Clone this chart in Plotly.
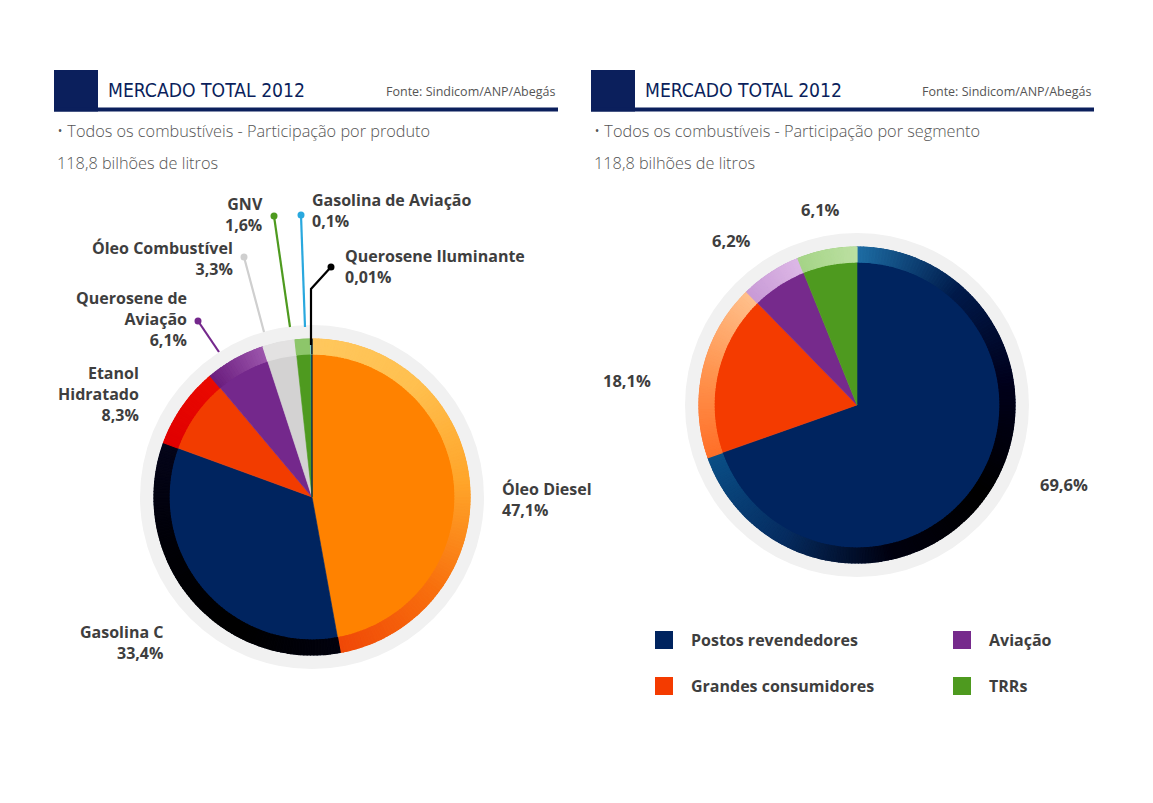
import plotly.graph_objects as go

W, H = 1153, 803
OFF = 8  # page body margin of the browser

# ---------------- data ----------------
products = ["Óleo Diesel", "Gasolina C", "Etanol Hidratado", "Querosene de Aviação",
            "Óleo Combustível", "GNV", "Gasolina de Aviação", "Querosene Iluminante"]
product_share = [47.1, 33.4, 8.3, 6.1, 3.3, 1.6, 0.1, 0.01]

segments = ["Postos revendedores", "Grandes consumidores", "Aviação", "TRRs"]
segment_share = [69.6, 18.1, 6.2, 6.1]

title_text = "MERCADO TOTAL 2012"
source_text = "Fonte: Sindicom/ANP/Abegás"
subtitle_left = "• Todos os combustíveis - Participação por produto"
subtitle_right = "• Todos os combustíveis - Participação por segmento"
volume_text = "118,8 bilhões de litros"

# ---------------- styles ----------------
NAVY = "#0B1F5C"
TXT = "#3E3E3E"
LBL_FONT = "Open Sans"
TITLE_FONT = "DejaVu Sans Condensed, Liberation Sans Narrow, Roboto, sans-serif"

prod_colors = ["#FF8200", "#00245F", "#F23C00", "#74288C", "#D3D2D2", "#4E9A1F", "#29A8DE", "#000000"]
prod_rim = [["#FFC85E", "#FFC050", "#FFA52A", "#F8700E", "#F04808"],
            ["#02020E", "#000000", "#000006", "#05051A"],
            ["#E00000", "#EA0A00"],
            ["#6A1D7E", "#9C56AC"],
            ["#E3E2E2"],
            ["#8DC66A"],
            ["#7FD2F0"],
            ["#000000"]]

seg_colors = ["#00245F", "#F43B00", "#762A8C", "#4E9A1F"]
seg_rim = [["#1E6EA5", "#001A4A", "#00001A", "#000000", "#00000F", "#062C60", "#0B4F86"],
           ["#FF6F28", "#FF9550", "#FFC08C"],
           ["#C89AD6", "#DDB8E6"],
           ["#A5D487", "#BCE0A2"]]


def hex2rgb(h):
    h = h.lstrip("#")
    return [int(h[i:i + 2], 16) for i in (0, 2, 4)]


def interp(stops, t):
    if len(stops) == 1:
        return stops[0]
    p = t * (len(stops) - 1)
    i = min(int(p), len(stops) - 2)
    f = p - i
    a, b = hex2rgb(stops[i]), hex2rgb(stops[i + 1])
    c = [round(a[k] + (b[k] - a[k]) * f) for k in range(3)]
    return "#%02X%02X%02X" % tuple(c)


def rim_parts(values, stops_list):
    """Split each slice's outer band into small pieces to fake a colour gradient."""
    vals, cols = [], []
    for v, stops in zip(values, stops_list):
        n = max(1, int(v * 3)) if len(stops) > 1 else 1
        for j in range(n):
            vals.append(v / n)
            cols.append(interp(stops, (j + 0.5) / n))
    return vals, cols


def px(x):
    return (x - OFF) / W


def py(y):
    return 1 - (y - OFF) / H


def dom(cx, cy, r):
    return dict(x=[px(cx - r), px(cx + r)], y=[py(cy + r), py(cy - r)])


def fmt(v):
    return f"{v:g}".replace(".", ",") + "%"


fig = go.Figure()

pies = [
    (312, 497, 158, products, product_share, prod_colors, prod_rim),
    (857, 405, 158, segments, segment_share, seg_colors, seg_rim),
]
for cx, cy, r, labels, vals, cols, rims in pies:
    # light grey outer ring
    fig.add_trace(go.Pie(values=[1], labels=["bg"], marker=dict(colors=["#F1F1F1"], line=dict(width=0)),
                         domain=dom(cx, cy, r + 14), textinfo="none", hoverinfo="skip",
                         sort=False, showlegend=False))
    fig.add_trace(go.Pie(values=vals, labels=labels, sort=False, direction="clockwise", rotation=0,
                         marker=dict(colors=cols, line=dict(color=cols, width=0.6)),
                         domain=dom(cx, cy, r), textinfo="none", hoverinfo="label+percent",
                         showlegend=False))
    rv, rc = rim_parts(vals, rims)
    fig.add_trace(go.Pie(values=rv, sort=False, direction="clockwise", rotation=0, hole=0.905,
                         marker=dict(colors=rc, line=dict(color=rc, width=1.2)),
                         domain=dom(cx, cy, r), textinfo="none", hoverinfo="skip",
                         showlegend=False))

shapes = []
annotations = []

# headers
for x0, x1, sub in [(54, 558, subtitle_left), (591, 1094, subtitle_right)]:
    shapes.append(dict(type="rect", xref="paper", yref="paper", x0=px(x0), x1=px(x0 + 44),
                       y0=py(111.5), y1=py(70), fillcolor=NAVY, line=dict(width=0)))
    shapes.append(dict(type="rect", xref="paper", yref="paper", x0=px(x0), x1=px(x1),
                       y0=py(111.5), y1=py(107.5), fillcolor=NAVY, line=dict(width=0)))
    annotations.append(dict(text=title_text, x=px(x0 + 52), y=py(91), xanchor="left", yanchor="middle",
                            font=dict(family=TITLE_FONT, size=19.2, color=NAVY)))
    annotations.append(dict(text=source_text, x=px(x1), y=py(92), xanchor="right", yanchor="middle",
                            font=dict(family="Open Sans", size=12.5, color="#555555")))
    annotations.append(dict(text=sub, x=px(x0 + 1), y=py(131), xanchor="left", yanchor="middle",
                            font=dict(family="Open Sans", size=16.3, color="#555555", weight=300)))
    annotations.append(dict(text=volume_text, x=px(x0 + 1), y=py(163), xanchor="left", yanchor="middle",
                            font=dict(family="Open Sans", size=16.3, color="#555555", weight=300)))

# left pie labels: (text lines, anchor x, center y, xanchor)
left_pos = {
    "Óleo Diesel": (["Óleo Diesel"], 500, 499, "left"),
    "Gasolina C": (["Gasolina C"], 165, 642, "right"),
    "Etanol Hidratado": (["Etanol", "Hidratado"], 141, 394, "right"),
    "Querosene de Aviação": (["Querosene de", "Aviação"], 189, 319, "right"),
    "Óleo Combustível": (["Óleo Combustível"], 235, 258, "right"),
    "GNV": (["GNV"], 265, 214, "right"),
    "Gasolina de Aviação": (["Gasolina de Aviação"], 310, 210, "left"),
    "Querosene Iluminante": (["Querosene Iluminante"], 343, 267, "left"),
}
for name, v in zip(products, product_share):
    lines, x, y, xa = left_pos[name]
    txt = "<br>".join(lines + [fmt(v)])
    annotations.append(dict(text=txt, x=px(x), y=py(y), xanchor=xa, yanchor="middle", align=xa,
                            font=dict(family=LBL_FONT, size=16, color=TXT, weight="bold")))

# leader lines: (name, points starting at the dot, colour)
leaders = [
    ("Querosene de Aviação", [(198, 321), (219, 352)], "#74288C"),
    ("Óleo Combustível", [(244, 257), (264, 332)], "#CFCFCF"),
    ("GNV", [(274, 216), (290, 327)], "#4E9A1F"),
    ("Gasolina de Aviação", [(301, 215), (305, 327)], "#29A8DE"),
    ("Querosene Iluminante", [(331, 267), (311, 289), (311, 345)], "#000000"),
]
for name, pts, col in leaders:
    path = "M " + " L ".join(f"{px(a):.5f},{py(b):.5f}" for a, b in pts)
    shapes.append(dict(type="path", xref="paper", yref="paper", path=path,
                       line=dict(color=col, width=2.2)))
    dx, dy = pts[0]
    shapes.append(dict(type="circle", xref="paper", yref="paper", x0=px(dx - 3.5), x1=px(dx + 3.5),
                       y0=py(dy + 3.5), y1=py(dy - 3.5), fillcolor=col, line=dict(width=0)))

# right pie percentage labels
right_pos = {"Postos revendedores": (1064, 484), "Grandes consumidores": (627, 380),
             "Aviação": (731, 240), "TRRs": (820, 209)}
for name, v in zip(segments, segment_share):
    x, y = right_pos[name]
    annotations.append(dict(text=fmt(v), x=px(x), y=py(y), xanchor="center", yanchor="middle",
                            font=dict(family=LBL_FONT, size=16.5, color=TXT, weight="bold")))

# legend for right pie
leg_pos = [(655, 640), (655, 686), (953, 640), (953, 686)]
for name, col, (x, y) in zip(segments, seg_colors, leg_pos):
    shapes.append(dict(type="rect", xref="paper", yref="paper", x0=px(x), x1=px(x + 18),
                       y0=py(y + 9), y1=py(y - 9), fillcolor=col, line=dict(width=0)))
    annotations.append(dict(text=name, x=px(x + 34), y=py(y), xanchor="left", yanchor="middle",
                            font=dict(family=LBL_FONT, size=16, color=TXT, weight="bold")))

for a in annotations:
    a.update(xref="paper", yref="paper", showarrow=False)

fig.update_layout(width=W, height=H, margin=dict(l=0, r=0, t=0, b=0),
                  paper_bgcolor="white", plot_bgcolor="white",
                  shapes=shapes, annotations=annotations, showlegend=False)

fig.write_html("out.html")
